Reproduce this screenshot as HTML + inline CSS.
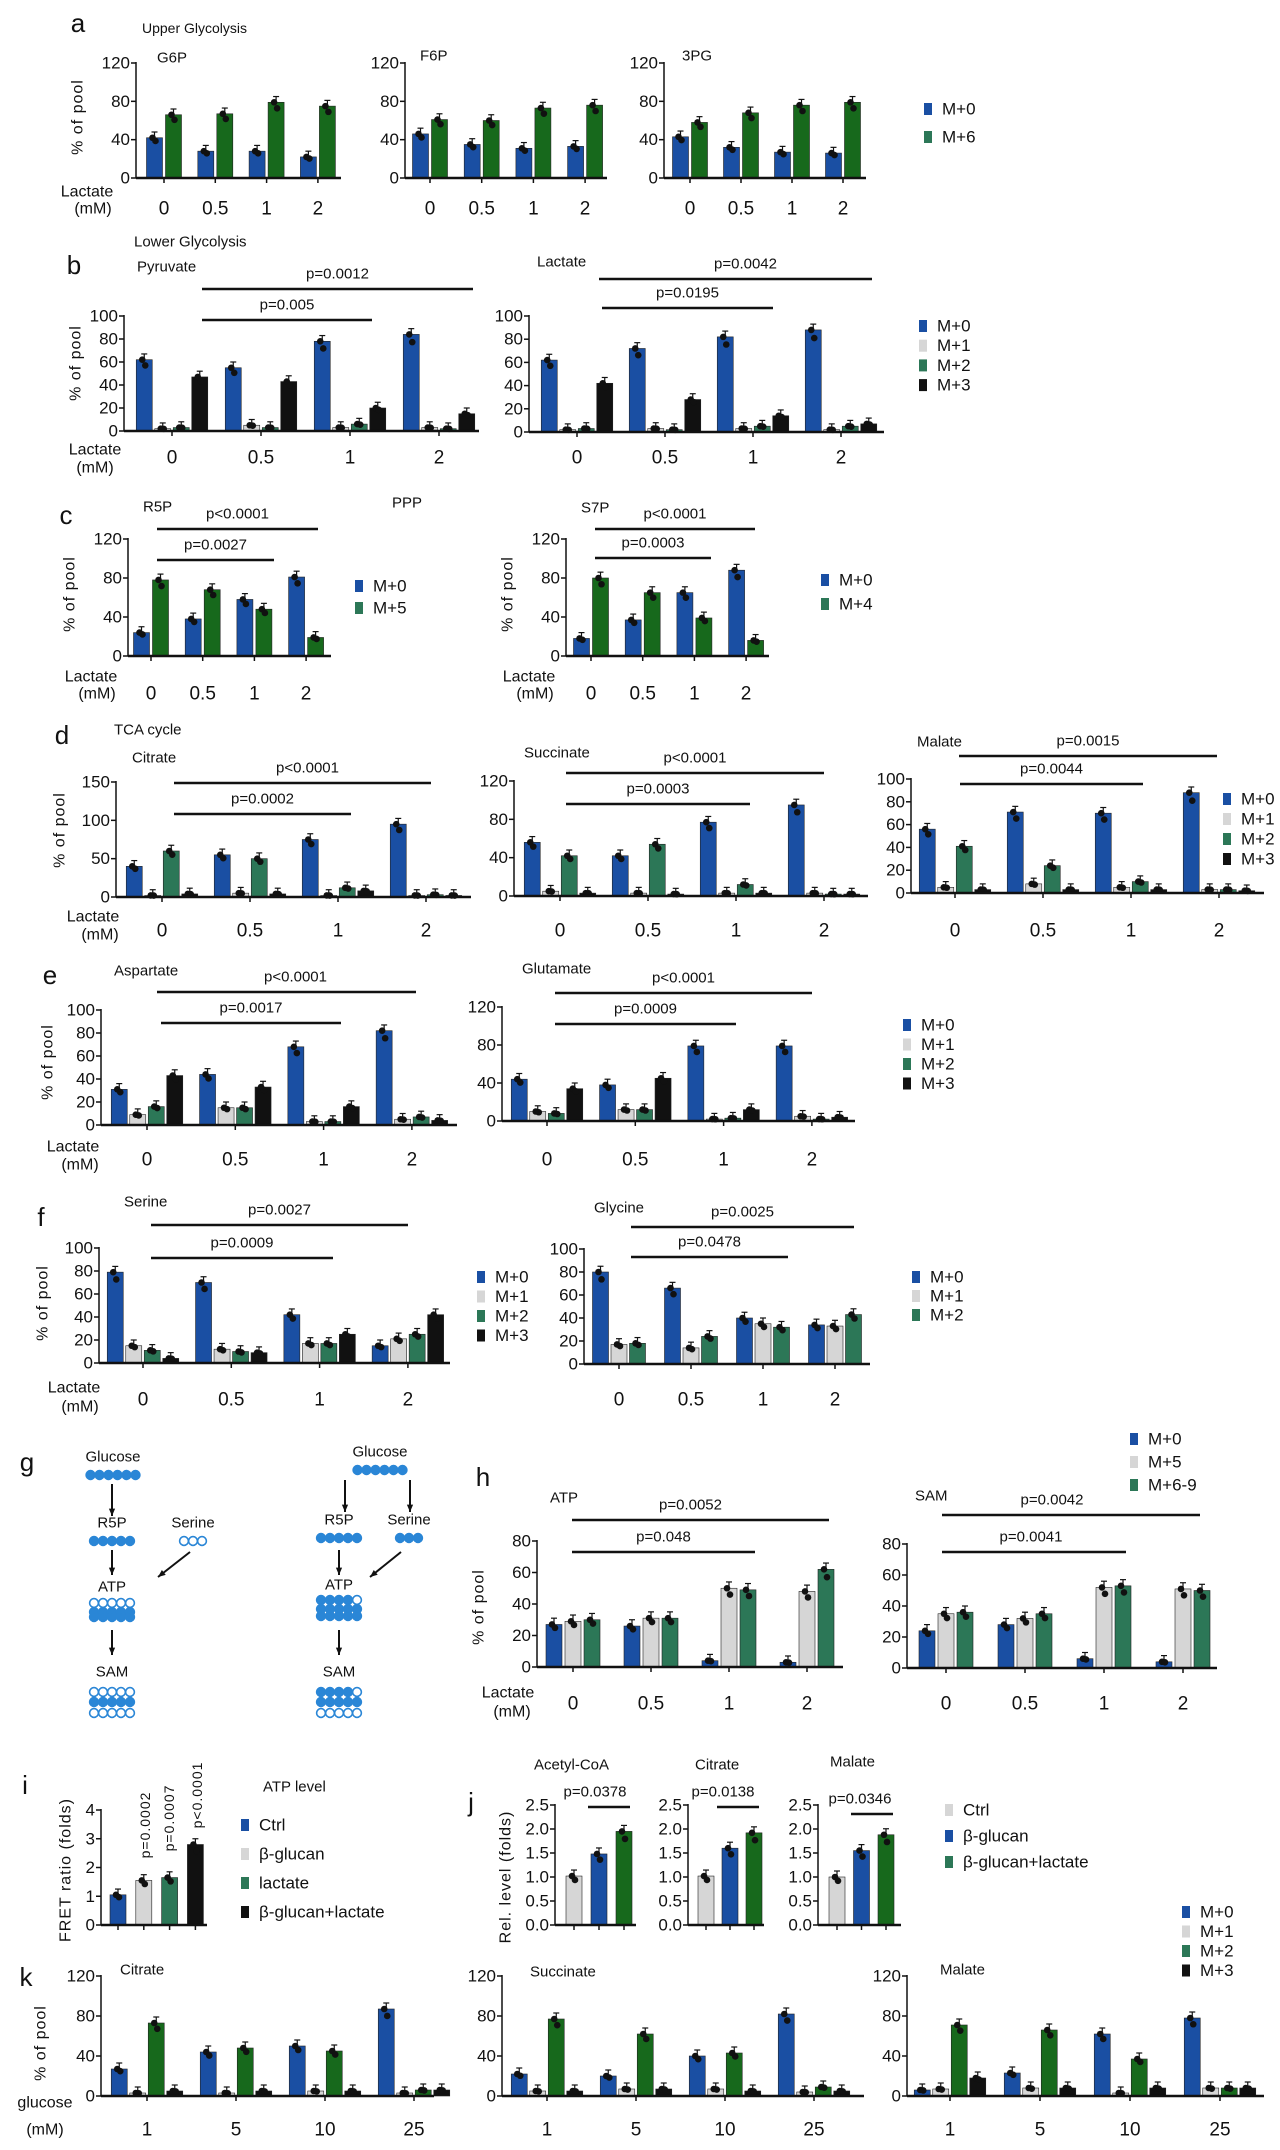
<!DOCTYPE html>
<html><head><meta charset="utf-8"><style>
html,body{margin:0;padding:0;background:#fff;}
svg{display:block;font-family:"Liberation Sans Narrow","Liberation Sans",sans-serif;}
</style></head><body>
<svg id="fig" width="1280" height="2150" viewBox="0 0 1280 2150" xmlns="http://www.w3.org/2000/svg">
<rect x="0" y="0" width="1280" height="2150" fill="#fff"/>
</svg>
<script>
// ---------- data ----------
const lactateCats = ["0","0.5","1","2"];
const glucoseCats = ["1","5","10","25"];
const a_g6p_m0 = [42,28,28,22];
const a_g6p_m6 = [66,67,79,75];
const a_f6p_m0 = [46,35,31,33];
const a_f6p_m6 = [61,60,73,76];
const a_3pg_m0 = [43,32,27,26];
const a_3pg_m6 = [58,68,76,79];
const b_pyr_m0 = [62,55,78,84];
const b_pyr_m1 = [2,5,3,3];
const b_pyr_m2 = [3,3,6,2];
const b_pyr_m3 = [47,43,20,15];
const b_lac_m0 = [62,72,82,88];
const b_lac_m1 = [2,3,3,2];
const b_lac_m2 = [3,2,5,5];
const b_lac_m3 = [42,28,14,7];
const c_r5p_m0 = [24,38,58,81];
const c_r5p_m5 = [78,68,48,19];
const c_s7p_m0 = [18,37,65,88];
const c_s7p_m4 = [80,65,39,16];
const d_cit_m0 = [40,55,75,95];
const d_cit_m1 = [2,5,2,2];
const d_cit_m2 = [60,50,12,3];
const d_cit_m3 = [4,4,8,2];
const d_suc_m0 = [56,42,77,95];
const d_suc_m1 = [5,3,3,3];
const d_suc_m2 = [42,54,12,2];
const d_suc_m3 = [3,2,3,2];
const d_mal_m0 = [56,71,70,88];
const d_mal_m1 = [5,8,5,3];
const d_mal_m2 = [41,24,10,3];
const d_mal_m3 = [3,3,3,2];
const e_asp_m0 = [31,44,68,82];
const e_asp_m1 = [9,15,3,5];
const e_asp_m2 = [16,15,3,7];
const e_asp_m3 = [43,33,16,4];
const e_glu_m0 = [44,38,79,79];
const e_glu_m1 = [10,12,2,5];
const e_glu_m2 = [8,12,3,2];
const e_glu_m3 = [34,45,12,4];
const f_ser_m0 = [79,70,42,15];
const f_ser_m1 = [15,12,17,21];
const f_ser_m2 = [11,10,17,25];
const f_ser_m3 = [4,9,25,42];
const f_gly_m0 = [80,66,40,34];
const f_gly_m1 = [17,14,35,33];
const f_gly_m2 = [18,24,32,43];
const h_atp_m0 = [27,26,4,3];
const h_atp_m5 = [29,31,50,48];
const h_atp_m69 = [30,31,49,62];
const h_sam_m0 = [24,28,6,4];
const h_sam_m5 = [35,32,52,51];
const h_sam_m69 = [36,35,53,50];
const i_cats = ["Ctrl","β-glucan","lactate","β-glucan+lactate"];
const i_fret = [1.05,1.55,1.65,2.8];
const j_cats = ["Ctrl","β-glucan","β-glucan+lactate"];
const j_acoa = [1.02,1.48,1.95];
const j_cit = [1.02,1.6,1.92];
const j_mal = [1.0,1.55,1.88];
const k_cit_m0 = [27,44,50,87];
const k_cit_m1 = [3,3,5,3];
const k_cit_m2 = [73,48,45,6];
const k_cit_m3 = [5,5,5,6];
const k_suc_m0 = [22,20,40,82];
const k_suc_m1 = [5,7,7,4];
const k_suc_m2 = [77,62,43,9];
const k_suc_m3 = [5,7,5,5];
const k_mal_m0 = [6,23,62,78];
const k_mal_m1 = [7,8,3,8];
const k_mal_m2 = [71,66,37,8];
const k_mal_m3 = [18,8,8,8];

// ---------- style ----------
const BLUE="#1a4fa3", GREY="#d6d6d6", GREEN="#17691c", TEAL="#2c7757", BLACK="#111", DOT="#2a86d6";
const NS="http://www.w3.org/2000/svg";
const svg=document.getElementById('fig');
function mk(tag, attrs, parent){
  const e=document.createElementNS(NS,tag);
  for(const k in attrs) e.setAttribute(k,attrs[k]);
  (parent||svg).appendChild(e);
  return e;
}
function txt(x,y,s,size,anchor,parent,name){
  const t=mk('text',{x:x,y:y,'font-size':size,'text-anchor':anchor||'middle','dominant-baseline':'central',fill:'#111'},parent);
  t.textContent=s;
  
  
  return t;
}
function line(x1,y1,x2,y2,w,parent){
  const l=mk('line',{x1:x1,y1:y1,x2:x2,y2:y2,stroke:'#111','stroke-width':w||1.5},parent);
  return l;
}
function rotText(x,y,s,size,parent,name,ls){
  const t=mk('text',{x:0,y:0,'font-size':size,'text-anchor':'middle','dominant-baseline':'central',fill:'#111',transform:`translate(${x},${y}) rotate(-90)`,'letter-spacing':ls||0,'font-family':'"Liberation Sans",sans-serif'},parent);
  t.textContent=s;
  
  
  return t;
}

function drawChart(c){
  const g=mk('g',{});
  
  
  const h=c.y0-c.top;
  const ys=v=>c.y0-v/c.max*h;
  const ya=line(c.ax,c.top-1,c.ax,c.y0,1.5,g);
  
  
  c.ticks.forEach(t=>{
    line(c.ax-5,ys(t),c.ax,ys(t),1.5,g);
    txt(c.ax-6,ys(t),c.fmt?c.fmt(t):String(t),c.tickSize||17,'end',g,'y-tick-label');
  });
  const n=c.series.length, w=c.barW||16, gap=(c.gap!==undefined)?c.gap:2.5;
  const gw=n*w+(n-1)*gap;
  c.cats.forEach((cat,i)=>{
    const cx=c.x0+i*c.step;
    c.series.forEach((s,j)=>{
      const v=s.vals[i];
      const x=cx-gw/2+j*(w+gap);
      const col=c.colors?c.colors[i]:s.color;
      const r=mk('rect',{x:x,y:ys(v),width:w,height:Math.max(0,c.y0-ys(v)),fill:col,stroke:'#222','stroke-width':0.6},g);
      
      
      const e=c.max*0.05;
      line(x+w/2,ys(v),x+w/2,ys(v+e),1.2,g);
      line(x+w/2-3,ys(v+e),x+w/2+3,ys(v+e),1.2,g);
      const d1=mk('circle',{cx:x+w/2-2,cy:ys(v),r:3.3,fill:'#111'},g);
      
      
      const d2=mk('circle',{cx:x+w/2+1,cy:ys(v*0.92),r:3.3,fill:'#111'},g);
      
      
    });
    line(cx,c.y0,cx,c.y0+5,1.5,g);
    if(c.catY) txt(cx,c.catY,cat,19,'middle',g,'x-tick-label');
  });
  const xa=line(c.ax,c.y0,c.xEnd,c.y0,2.5,g);
  
  
  if(c.title) txt(c.title[1],c.title[2],c.title[0],15,'start',g,'chart-title');
  (c.pv||[]).forEach(p=>{
    line(p[2],p[4],p[3],p[4],2.5,g);
    txt((p[2]+p[3])/2+(p[5]||0),p[4]-15,p[0],15,'middle',g,'p-value');
  });
}
function legend(x,y0,dy,items,name){
  const g=mk('g',{});
  
  
  items.forEach((it,i)=>{
    const r=mk('rect',{x:x,y:y0+i*dy-6,width:8,height:12,fill:it[1]},g);
    
    
    txt(x+18,y0+i*dy,it[0],17,'start',g,'legend-entry');
  });
}
function S(vals,color,label){return {vals:vals,color:color,label:label};}

// ---------- panel a ----------
txt(78,23,'a',26,'middle',svg,'panel-label-a');
txt(142,28,'Upper Glycolysis',14,'start',svg,'section-title');
rotText(78,117,'% of pool',16,svg,'y-axis-title','1');
txt(87,192,'Lactate',16,'middle',svg,'x-axis-title');
txt(93,209,'(mM)',16,'middle',svg,'x-axis-title');
drawChart({name:'chart-g6p',ax:136,y0:178,top:63,max:120,ticks:[0,40,80,120],xEnd:341,x0:164,step:51.3,cats:lactateCats,catY:209,barW:16,gap:3,series:[S(a_g6p_m0,BLUE,'M+0'),S(a_g6p_m6,GREEN,'M+6')],title:['G6P',157,58]});
drawChart({name:'chart-f6p',ax:405,y0:178,top:63,max:120,ticks:[0,40,80,120],xEnd:607,x0:430,step:51.7,cats:lactateCats,catY:209,barW:16,gap:3,series:[S(a_f6p_m0,BLUE,'M+0'),S(a_f6p_m6,GREEN,'M+6')],title:['F6P',420,56]});
drawChart({name:'chart-3pg',ax:664,y0:178,top:63,max:120,ticks:[0,40,80,120],xEnd:866,x0:690,step:51,cats:lactateCats,catY:209,barW:16,gap:3,series:[S(a_3pg_m0,BLUE,'M+0'),S(a_3pg_m6,GREEN,'M+6')],title:['3PG',682,56]});
legend(924,109,28,[['M+0',BLUE],['M+6',TEAL]],'legend-a');

// ---------- panel b ----------
txt(134,242,'Lower Glycolysis',15,'start',svg,'section-title');
txt(74,265,'b',26,'middle',svg,'panel-label-b');
rotText(76,363,'% of pool',16,svg,'y-axis-title','1');
txt(95,450,'Lactate',16,'middle',svg,'x-axis-title');
txt(95,468,'(mM)',16,'middle',svg,'x-axis-title');
drawChart({name:'chart-pyruvate',ax:124,y0:431,top:316,max:100,ticks:[0,20,40,60,80,100],xEnd:479,x0:172,step:89,cats:lactateCats,catY:458,series:[S(b_pyr_m0,BLUE,'M+0'),S(b_pyr_m1,GREY,'M+1'),S(b_pyr_m2,TEAL,'M+2'),S(b_pyr_m3,BLACK,'M+3')],title:['Pyruvate',137,267],pv:[['p=0.0012',,202,473,289],['p=0.005',,202,372,320]]});
drawChart({name:'chart-lactate',ax:529,y0:432,top:316,max:100,ticks:[0,20,40,60,80,100],xEnd:884,x0:577,step:88,cats:lactateCats,catY:458,series:[S(b_lac_m0,BLUE,'M+0'),S(b_lac_m1,GREY,'M+1'),S(b_lac_m2,TEAL,'M+2'),S(b_lac_m3,BLACK,'M+3')],title:['Lactate',537,262],pv:[['p=0.0042',,599,872,279,10],['p=0.0195',,602,773,308]]});
legend(919,326,19.7,[['M+0',BLUE],['M+1',GREY],['M+2',TEAL],['M+3',BLACK]],'legend-b');

// ---------- panel c ----------
txt(66,515,'c',26,'middle',svg,'panel-label-c');
txt(407,503,'PPP',15,'middle',svg,'section-title');
rotText(70,594,'% of pool',16,svg,'y-axis-title','1');
rotText(508,594,'% of pool',16,svg,'y-axis-title','1');
txt(91,677,'Lactate',16,'middle',svg,'x-axis-title');
txt(97,694,'(mM)',16,'middle',svg,'x-axis-title');
txt(529,677,'Lactate',16,'middle',svg,'x-axis-title');
txt(535,694,'(mM)',16,'middle',svg,'x-axis-title');
drawChart({name:'chart-r5p',ax:128,y0:656,top:539,max:120,ticks:[0,40,80,120],xEnd:331,x0:151,step:51.7,cats:lactateCats,catY:694,barW:16,gap:3,series:[S(c_r5p_m0,BLUE,'M+0'),S(c_r5p_m5,GREEN,'M+5')],title:['R5P',143,507],pv:[['p<0.0001',,157,318,529],['p=0.0027',,157,274,560]]});
drawChart({name:'chart-s7p',ax:566,y0:656,top:539,max:120,ticks:[0,40,80,120],xEnd:769,x0:591,step:51.7,cats:lactateCats,catY:694,barW:16,gap:3,series:[S(c_s7p_m0,BLUE,'M+0'),S(c_s7p_m4,GREEN,'M+4')],title:['S7P',581,508],pv:[['p<0.0001',,595,755,529],['p=0.0003',,595,711,558]]});
legend(355,586,22,[['M+0',BLUE],['M+5',TEAL]],'legend-c-r5p');
legend(821,580,24,[['M+0',BLUE],['M+4',TEAL]],'legend-c-s7p');

// ---------- panel d ----------
txt(62,735,'d',26,'middle',svg,'panel-label-d');
txt(114,730,'TCA cycle',15,'start',svg,'section-title');
rotText(60,830,'% of pool',16,svg,'y-axis-title','1');
txt(93,917,'Lactate',16,'middle',svg,'x-axis-title');
txt(100,935,'(mM)',16,'middle',svg,'x-axis-title');
drawChart({name:'chart-citrate',ax:116,y0:897,top:782,max:150,ticks:[0,50,100,150],xEnd:471,x0:162,step:88,cats:lactateCats,catY:931,series:[S(d_cit_m0,BLUE,'M+0'),S(d_cit_m1,GREY,'M+1'),S(d_cit_m2,TEAL,'M+2'),S(d_cit_m3,BLACK,'M+3')],title:['Citrate',132,758],pv:[['p<0.0001',,174,431,783,5],['p=0.0002',,174,351,814]]});
drawChart({name:'chart-succinate',ax:514,y0:896,top:781,max:120,ticks:[0,40,80,120],xEnd:868,x0:560,step:88,cats:lactateCats,catY:931,series:[S(d_suc_m0,BLUE,'M+0'),S(d_suc_m1,GREY,'M+1'),S(d_suc_m2,TEAL,'M+2'),S(d_suc_m3,BLACK,'M+3')],title:['Succinate',524,753],pv:[['p<0.0001',,566,824,773],['p=0.0003',,566,750,804]]});
drawChart({name:'chart-malate-d',ax:911,y0:893,top:779,max:100,ticks:[0,20,40,60,80,100],xEnd:1264,x0:955,step:88,cats:lactateCats,catY:931,series:[S(d_mal_m0,BLUE,'M+0'),S(d_mal_m1,GREY,'M+1'),S(d_mal_m2,TEAL,'M+2'),S(d_mal_m3,BLACK,'M+3')],title:['Malate',917,742],pv:[['p=0.0015',,959,1217,756],['p=0.0044',,960,1143,784]]});
legend(1223,799,20,[['M+0',BLUE],['M+1',GREY],['M+2',TEAL],['M+3',BLACK]],'legend-d');

// ---------- panel e ----------
txt(50,975,'e',26,'middle',svg,'panel-label-e');
rotText(48,1062,'% of pool',16,svg,'y-axis-title','1');
txt(73,1147,'Lactate',16,'middle',svg,'x-axis-title');
txt(80,1165,'(mM)',16,'middle',svg,'x-axis-title');
drawChart({name:'chart-aspartate',ax:101,y0:1125,top:1010,max:100,ticks:[0,20,40,60,80,100],xEnd:457,x0:147,step:88.3,cats:lactateCats,catY:1160,series:[S(e_asp_m0,BLUE,'M+0'),S(e_asp_m1,GREY,'M+1'),S(e_asp_m2,TEAL,'M+2'),S(e_asp_m3,BLACK,'M+3')],title:['Aspartate',114,971],pv:[['p<0.0001',,157,416,992,9],['p=0.0017',,161,341,1023]]});
drawChart({name:'chart-glutamate',ax:502,y0:1121,top:1007,max:120,ticks:[0,40,80,120],xEnd:855,x0:547,step:88.3,cats:lactateCats,catY:1160,series:[S(e_glu_m0,BLUE,'M+0'),S(e_glu_m1,GREY,'M+1'),S(e_glu_m2,TEAL,'M+2'),S(e_glu_m3,BLACK,'M+3')],title:['Glutamate',522,969],pv:[['p<0.0001',,555,812,993],['p=0.0009',,555,736,1024]]});
legend(903,1025,19.5,[['M+0',BLUE],['M+1',GREY],['M+2',TEAL],['M+3',BLACK]],'legend-e');

// ---------- panel f ----------
txt(41,1217,'f',26,'middle',svg,'panel-label-f');
rotText(43,1303,'% of pool',16,svg,'y-axis-title','1');
txt(74,1388,'Lactate',16,'middle',svg,'x-axis-title');
txt(80,1407,'(mM)',16,'middle',svg,'x-axis-title');
drawChart({name:'chart-serine',ax:99,y0:1363,top:1248,max:100,ticks:[0,20,40,60,80,100],xEnd:450,x0:143,step:88.3,cats:lactateCats,catY:1400,series:[S(f_ser_m0,BLUE,'M+0'),S(f_ser_m1,GREY,'M+1'),S(f_ser_m2,TEAL,'M+2'),S(f_ser_m3,BLACK,'M+3')],title:['Serine',124,1202],pv:[['p=0.0027',,151,408,1225],['p=0.0009',,151,333,1258]]});
drawChart({name:'chart-glycine',ax:584,y0:1364,top:1249,max:100,ticks:[0,20,40,60,80,100],xEnd:870,x0:619,step:72,cats:lactateCats,catY:1400,series:[S(f_gly_m0,BLUE,'M+0'),S(f_gly_m1,GREY,'M+1'),S(f_gly_m2,TEAL,'M+2')],title:['Glycine',594,1208],pv:[['p=0.0025',,631,854,1227],['p=0.0478',,631,788,1257]]});
legend(477,1277,19.5,[['M+0',BLUE],['M+1',GREY],['M+2',TEAL],['M+3',BLACK]],'legend-f-serine');
legend(912,1277,19,[['M+0',BLUE],['M+1',GREY],['M+2',TEAL]],'legend-f-glycine');

// ---------- panel g (schematic) ----------
txt(27,1462,'g',26,'middle',svg,'panel-label-g');
function dots(cx,cy,n,filled,name){
  const g=mk('g',{});
  
  
  const r=4.4, st=9;
  for(let i=0;i<n;i++){
    const f=filled[i]===1;
    mk('circle',{cx:cx-(n-1)*st/2+i*st,cy:cy,r:r,fill:f?DOT:'#fff',stroke:DOT,'stroke-width':1.6},g);
  }
}
function arrow(x1,y1,x2,y2){
  const l=line(x1,y1,x2,y2,2);
  
  
  const ang=Math.atan2(y2-y1,x2-x1), L=8;
  mk('polygon',{points:`${x2},${y2} ${x2-L*Math.cos(ang-0.4)},${y2-L*Math.sin(ang-0.4)} ${x2-L*Math.cos(ang+0.4)},${y2-L*Math.sin(ang+0.4)}`,fill:'#111'});
}
// left
txt(113,1457,'Glucose',15,'middle',svg,'node-glucose');
dots(113,1475,6,[1,1,1,1,1,1],'glucose-carbons');
arrow(112,1484,112,1516);
txt(112,1523,'R5P',15,'middle',svg,'node-r5p');
txt(193,1523,'Serine',15,'middle',svg,'node-serine');
dots(112,1541,5,[1,1,1,1,1],'r5p-carbons');
dots(193,1541,3,[0,0,0],'serine-carbons');
arrow(112,1550,112,1575);
arrow(190,1552,158,1577);
txt(112,1587,'ATP',15,'middle',svg,'node-atp');
dots(112,1603,5,[0,0,0,0,0],'atp-carbons-1');
dots(112,1612,5,[1,1,1,1,1],'atp-carbons-2');
dots(112,1617,5,[1,1,1,1,1],'atp-carbons-3');
arrow(112,1630,112,1655);
txt(112,1672,'SAM',15,'middle',svg,'node-sam');
dots(112,1692,5,[0,0,0,0,0],'sam-carbons-1');
dots(112,1702,5,[1,1,1,1,1],'sam-carbons-2');
dots(112,1713,5,[0,0,0,0,0],'sam-carbons-3');
// right
txt(380,1452,'Glucose',15,'middle',svg,'node-glucose');
dots(380,1470,6,[1,1,1,1,1,1],'glucose-carbons');
arrow(345,1480,345,1512);
arrow(410,1480,410,1512);
txt(339,1520,'R5P',15,'middle',svg,'node-r5p');
txt(409,1520,'Serine',15,'middle',svg,'node-serine');
dots(339,1538,5,[1,1,1,1,1],'r5p-carbons');
dots(409,1538,3,[1,1,1],'serine-carbons');
arrow(339,1550,339,1575);
arrow(401,1552,370,1577);
txt(339,1585,'ATP',15,'middle',svg,'node-atp');
dots(339,1600,5,[1,1,1,1,0],'atp-carbons-1');
dots(339,1609,5,[1,1,1,1,1],'atp-carbons-2');
dots(339,1616,5,[1,1,1,1,1],'atp-carbons-3');
arrow(339,1630,339,1655);
txt(339,1672,'SAM',15,'middle',svg,'node-sam');
dots(339,1692,5,[1,1,1,1,0],'sam-carbons-1');
dots(339,1702,5,[1,1,1,1,1],'sam-carbons-2');
dots(339,1713,5,[0,0,0,0,0],'sam-carbons-3');

// ---------- panel h ----------
txt(483,1477,'h',26,'middle',svg,'panel-label-h');
rotText(479,1607,'% of pool',16,svg,'y-axis-title','1');
txt(508,1693,'Lactate',16,'middle',svg,'x-axis-title');
txt(512,1712,'(mM)',16,'middle',svg,'x-axis-title');
drawChart({name:'chart-atp',ax:537,y0:1667,top:1541,max:80,ticks:[0,20,40,60,80],xEnd:843,x0:573,step:78,cats:lactateCats,catY:1704,barW:16,gap:3,series:[S(h_atp_m0,BLUE,'M+0'),S(h_atp_m5,GREY,'M+5'),S(h_atp_m69,TEAL,'M+6-9')],title:['ATP',550,1498],pv:[['p=0.0052',,572,829,1520,-10],['p=0.048',,572,755,1552,0]]});
drawChart({name:'chart-sam',ax:907,y0:1668,top:1544,max:80,ticks:[0,20,40,60,80],xEnd:1217,x0:946,step:79,cats:lactateCats,catY:1704,barW:16,gap:3,series:[S(h_sam_m0,BLUE,'M+0'),S(h_sam_m5,GREY,'M+5'),S(h_sam_m69,TEAL,'M+6-9')],title:['SAM',915,1496],pv:[['p=0.0042',,942,1200,1515,-19],['p=0.0041',,942,1126,1552,-3]]});
legend(1130,1439,23,[['M+0',BLUE],['M+5',GREY],['M+6-9',TEAL]],'legend-h');

// ---------- panel i ----------
txt(25,1785,'i',26,'middle',svg,'panel-label-i');
txt(263,1787,'ATP level',15,'start',svg,'chart-title');
rotText(66,1870,'FRET ratio (folds)',16,svg,'y-axis-title','1');
drawChart({name:'chart-atp-level',ax:101,y0:1925,top:1810,max:4,ticks:[0,1,2,3,4],xEnd:207,x0:118,step:25.8,cats:i_cats,barW:16,gap:0,colors:[BLUE,GREY,TEAL,BLACK],series:[S(i_fret,BLUE,'fret')]});
rotText(145,1825,'p=0.0002',14,svg,'p-value','1');
rotText(169,1818,'p=0.0007',14,svg,'p-value','1');
rotText(197,1795,'p<0.0001',14,svg,'p-value','1');
legend(241,1825,29,[['Ctrl',BLUE],['β-glucan',GREY],['lactate',TEAL],['β-glucan+lactate',BLACK]],'legend-i');

// ---------- panel j ----------
txt(471,1802,'j',26,'middle',svg,'panel-label-j');
rotText(506,1877,'Rel. level (folds)',16,svg,'y-axis-title','1');
const jf=t=>t.toFixed(1);
drawChart({name:'chart-acetyl-coa',ax:555,y0:1925,top:1805,max:2.5,ticks:[0,0.5,1,1.5,2,2.5],fmt:jf,xEnd:636,x0:574,step:25,cats:j_cats,barW:16,gap:0,colors:[GREY,BLUE,GREEN],series:[S(j_acoa,GREY,'acoa')],title:['Acetyl-CoA',534,1765],pv:[['p=0.0378',,588,630,1807,-14]]});
drawChart({name:'chart-citrate-j',ax:688,y0:1925,top:1805,max:2.5,ticks:[0,0.5,1,1.5,2,2.5],fmt:jf,xEnd:764,x0:706,step:24,cats:j_cats,barW:16,gap:0,colors:[GREY,BLUE,GREEN],series:[S(j_cit,GREY,'cit')],title:['Citrate',695,1765],pv:[['p=0.0138',,717,759,1807,-15]]});
drawChart({name:'chart-malate-j',ax:818,y0:1925,top:1805,max:2.5,ticks:[0,0.5,1,1.5,2,2.5],fmt:jf,xEnd:901,x0:837,step:24.5,cats:j_cats,barW:16,gap:0,colors:[GREY,BLUE,GREEN],series:[S(j_mal,GREY,'mal')],title:['Malate',830,1762],pv:[['p=0.0346',,851,893,1814,-12]]});
legend(945,1810,26,[['Ctrl',GREY],['β-glucan',BLUE],['β-glucan+lactate',TEAL]],'legend-j');

// ---------- panel k ----------
txt(26,1977,'k',26,'middle',svg,'panel-label-k');
rotText(41,2043,'% of pool',16,svg,'y-axis-title','1');
txt(45,2103,'glucose',16,'middle',svg,'x-axis-title');
txt(45,2130,'(mM)',16,'middle',svg,'x-axis-title');
drawChart({name:'chart-citrate-k',ax:101,y0:2096,top:1976,max:120,ticks:[0,40,80,120],xEnd:434,x0:147,step:89,cats:glucoseCats,catY:2130,series:[S(k_cit_m0,BLUE,'M+0'),S(k_cit_m1,GREY,'M+1'),S(k_cit_m2,GREEN,'M+2'),S(k_cit_m3,BLACK,'M+3')],title:['Citrate',120,1970]});
drawChart({name:'chart-succinate-k',ax:502,y0:2096,top:1976,max:120,ticks:[0,40,80,120],xEnd:864,x0:547,step:89,cats:glucoseCats,catY:2130,series:[S(k_suc_m0,BLUE,'M+0'),S(k_suc_m1,GREY,'M+1'),S(k_suc_m2,GREEN,'M+2'),S(k_suc_m3,BLACK,'M+3')],title:['Succinate',530,1972]});
drawChart({name:'chart-malate-k',ax:907,y0:2096,top:1976,max:120,ticks:[0,40,80,120],xEnd:1264,x0:950,step:90,cats:glucoseCats,catY:2130,series:[S(k_mal_m0,BLUE,'M+0'),S(k_mal_m1,GREY,'M+1'),S(k_mal_m2,GREEN,'M+2'),S(k_mal_m3,BLACK,'M+3')],title:['Malate',940,1970]});
legend(1182,1912,19.5,[['M+0',BLUE],['M+1',GREY],['M+2',TEAL],['M+3',BLACK]],'legend-k');
</script>
</body></html>
